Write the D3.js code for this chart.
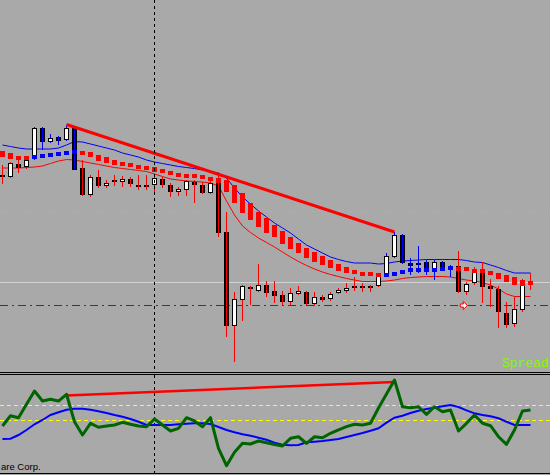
<!DOCTYPE html>
<html lang="en">
<head>
<meta charset="utf-8">
<script src="https://cdn.jsdelivr.net/npm/d3@7/dist/d3.min.js"></script>
<style>
  html, body { margin: 0; padding: 0; background: #a9a9a9; }
  svg { display: block; }
</style>
</head>
<body>
<svg id="chart" width="550" height="475"></svg>
<script>
// bars, oldest first
var open = [1.3175,1.3173,1.3186,1.3183,1.3192,1.3222,1.3208,1.3213,1.3210,1.3222,1.3182,1.3155,1.3173,1.3164,1.3170,1.3168,1.3171,1.3165,1.3165,1.3165,1.3171,1.3165,1.3158,1.3160,1.3168,1.3165,1.3157,1.3167,1.3118,1.3024,1.3050,1.3063,1.3059,1.3065,1.3059,1.3055,1.3048,1.3056,1.3058,1.3046,1.3053,1.3051,1.3057,1.3059,1.3064,1.3064,1.3064,1.3064,1.3075,1.3093,1.3115,1.3087,1.3087,1.3088,1.3078,1.3088,1.3084,1.3084,1.3058,1.3067,1.3077,1.3064,1.3061,1.3037,1.3026,1.3040,1.3068];
var high = [1.3185,1.3188,1.3193,1.3193,1.3223,1.3223,1.3216,1.3214,1.3225,1.3223,1.3190,1.3175,1.3180,1.3170,1.3175,1.3174,1.3173,1.3175,1.3175,1.3174,1.3173,1.3167,1.3163,1.3170,1.3170,1.3168,1.3173,1.3177,1.3138,1.3058,1.3065,1.3064,1.3086,1.3069,1.3069,1.3059,1.3062,1.3064,1.3059,1.3058,1.3055,1.3058,1.3062,1.3067,1.3073,1.3067,1.3065,1.3077,1.3097,1.3118,1.3116,1.3092,1.3104,1.3090,1.3090,1.3089,1.3085,1.3099,1.3068,1.3083,1.3088,1.3071,1.3064,1.3048,1.3053,1.3071,1.3077];
var low = [1.3166,1.3172,1.3177,1.3181,1.3190,1.3200,1.3207,1.3205,1.3209,1.3180,1.3154,1.3153,1.3162,1.3162,1.3164,1.3163,1.3163,1.3160,1.3160,1.3158,1.3162,1.3153,1.3154,1.3154,1.3147,1.3156,1.3156,1.3113,1.3013,1.2988,1.3029,1.3045,1.3058,1.3053,1.3047,1.3045,1.3044,1.3055,1.3045,1.3044,1.3048,1.3049,1.3056,1.3057,1.3059,1.3058,1.3058,1.3063,1.3074,1.3092,1.3086,1.3075,1.3077,1.3075,1.3070,1.3079,1.3073,1.3057,1.3055,1.3065,1.3047,1.3043,1.3022,1.3022,1.3023,1.3038,1.3060];
var close = [1.3173,1.3187,1.3182,1.3190,1.3222,1.3208,1.3212,1.3209,1.3222,1.3180,1.3155,1.3173,1.3164,1.3167,1.3169,1.3171,1.3166,1.3163,1.3163,1.3172,1.3165,1.3158,1.3161,1.3169,1.3165,1.3157,1.3167,1.3117,1.3024,1.3051,1.3064,1.3061,1.3065,1.3057,1.3054,1.3048,1.3057,1.3059,1.3046,1.3053,1.3050,1.3056,1.3060,1.3062,1.3063,1.3062,1.3062,1.3075,1.3094,1.3115,1.3087,1.3084,1.3085,1.3078,1.3088,1.3082,1.3082,1.3058,1.3066,1.3079,1.3063,1.3061,1.3038,1.3025,1.3041,1.3068,1.3065];

// trend: 1 = up (blue), -1 = down (red)
var trend = [-1,-1,-1,-1,1,1,1,1,1,1,-1,-1,-1,-1,-1,-1,-1,-1,-1,-1,-1,-1,-1,-1,-1,-1,-1,-1,-1,-1,-1,-1,-1,-1,-1,-1,-1,-1,-1,-1,-1,-1,-1,-1,-1,-1,-1,-1,1,1,1,1,1,1,1,1,1,-1,-1,-1,-1,-1,-1,-1,-1,-1,-1];

// dotted trend MA, histogram between two buffers
var maTop = [1.3197,1.3195,1.3192,1.3192,1.3193,1.31935,1.31945,1.3196,1.31975,1.31985,1.31975,1.3196,1.3193,1.3191,1.3188,1.3186,1.3185,1.31835,1.3182,1.3181,1.3179,1.3177,1.3175,1.31745,1.31735,1.31725,1.3171,1.3170,1.3168,1.3163,1.3155,1.3145,1.3136,1.3130,1.3123,1.3117,1.3111,1.3105,1.3100,1.3096,1.3092,1.3088,1.3084,1.3081,1.3078,1.3076,1.3076,1.3075,1.3075,1.3076,1.30785,1.3080,1.30805,1.30805,1.30805,1.3081,1.3082,1.30815,1.3081,1.3079,1.3079,1.3077,1.3075,1.3073,1.3071,1.3068,1.3067];
var maBot = [1.3195,1.3193,1.3192,1.3192,1.3193,1.31935,1.31945,1.3196,1.31975,1.31985,1.31975,1.3195,1.3191,1.3189,1.3187,1.3186,1.3185,1.31835,1.3182,1.3180,1.3179,1.3177,1.3175,1.31745,1.31735,1.31725,1.3171,1.3169,1.3160,1.3149,1.3139,1.3132,1.3125,1.3119,1.3115,1.3108,1.3103,1.3099,1.3094,1.3090,1.3087,1.3084,1.3081,1.3079,1.3078,1.3076,1.3076,1.3075,1.3075,1.3076,1.30785,1.3080,1.30805,1.30805,1.30805,1.3081,1.3082,1.30815,1.3081,1.3079,1.3079,1.3077,1.3073,1.3070,1.3067,1.3066,1.3067];

// envelope
var bandUp = [1.3205,1.32035,1.3202,1.3201,1.3201,1.3201,1.3201,1.3202,1.3205,1.32085,1.3208,1.3206,1.3204,1.3202,1.3200,1.3197,1.3195,1.3193,1.3190,1.3188,1.31865,1.3185,1.31835,1.31825,1.31815,1.3180,1.31785,1.3177,1.3172,1.3162,1.3153,1.3146,1.3139,1.3133,1.3127,1.3122,1.3117,1.3111,1.3105,1.3101,1.3097,1.3093,1.30905,1.30885,1.3087,1.3087,1.3087,1.3086,1.30865,1.3088,1.3089,1.30895,1.3090,1.30905,1.30905,1.30905,1.30905,1.30905,1.30895,1.3088,1.30875,1.3085,1.30825,1.30795,1.3077,1.3077,1.3077];
var bandDn = [1.3182,1.3182,1.3182,1.31825,1.3183,1.3184,1.31865,1.3189,1.31905,1.3190,1.31885,1.3187,1.31855,1.3184,1.31825,1.31815,1.31805,1.31795,1.31785,1.3176,1.31735,1.3171,1.3170,1.3169,1.31685,1.3168,1.3167,1.3164,1.3149,1.3135,1.3124,1.31175,1.3112,1.31075,1.3103,1.3098,1.3093,1.30885,1.30845,1.3081,1.3078,1.30755,1.30735,1.30715,1.3070,1.30685,1.30685,1.30685,1.3069,1.3070,1.30715,1.30725,1.3073,1.30735,1.30735,1.30735,1.3073,1.30715,1.3070,1.3069,1.30675,1.3065,1.3061,1.3056,1.30535,1.30535,1.30535];

// oscillator window
var osc = [-18,-4.3,-6.9,10.9,28.7,15.3,17.6,15.3,24.3,-12.3,-30,-14.4,-19.7,-18,-16.7,-13.1,-15.7,-18,-18.9,-8.7,-16.7,-24.7,-21.1,-6.9,-11.3,-18.9,-6.9,-47.7,-70.9,-53.1,-41.1,-42,-38,-40.3,-42.7,-44.7,-34.4,-32.3,-41.1,-32.3,-33.6,-27.7,-23.3,-18.9,-15.7,-16.7,-14.4,6,24.7,43.3,7.7,6.4,7.7,-2.4,7.7,1.1,3.3,-24.7,-14.4,-3.3,-14.4,-17.6,-32.3,-42.4,-23.3,2,3.3];
var oscSignal = [-35.3,-34.9,-30,-23.3,-15.7,-10,-3.3,0.3,3.7,5.1,5.1,3.7,1.6,-0.7,-3.3,-5.6,-8.7,-12.3,-16.7,-16.7,-16.7,-16.7,-15.7,-14.9,-14.4,-14.4,-15.3,-19.3,-23.3,-26.4,-29.1,-30.9,-33.6,-36.3,-40.3,-42.9,-43.7,-43.3,-39.7,-38.9,-38,-36.7,-35.3,-32.7,-30,-27.3,-24.3,-21.1,-13.6,-6.9,-4.3,-0.7,2.4,4.7,6.4,8.3,10,7.3,2.9,-1.1,-3.3,-5.1,-7.7,-12.3,-16.7,-16.7,-16.7];
var oscLevels = [10, -10];

// objects on the chart
var priceTrend = [[8, 1.32255], [49, 1.3118]];
var oscTrend = [[8, 22.7], [49, 40.7]];
var grayLevel = 1.3068;
var orangeLevel = 1.3139;
var greenLevel = 1.3045;
var markBar = 57.6, markPrice = 1.30445;
var vlineBar = 19;

var svg = d3.select('#chart');
var W = 550, H = 475;
var mainBottom = 372, subTop = 375, subBottom = 473;

var x = d3.scaleLinear().domain([0, 66]).range([2.5, 530.5]);
var y = d3.scaleLinear().domain([1.2978, 1.3350]).range([372, 0]);
var ys = d3.scaleLinear().domain([-80, 50]).range([472.5, 375]);

var BLUE = '#0000ff', RED = '#ff0000';
function tcol(i) { return trend[i] > 0 ? BLUE : RED; }

svg.append('rect').attr('width', W).attr('height', H).attr('fill', '#a9a9a9');

var defs = svg.append('defs');
defs.append('clipPath').attr('id', 'clipMain')
  .append('rect').attr('x', 0).attr('y', 0).attr('width', W).attr('height', mainBottom);
defs.append('clipPath').attr('id', 'clipSub')
  .append('rect').attr('x', 0).attr('y', subTop).attr('width', W).attr('height', subBottom - subTop);

var main = svg.append('g').attr('clip-path', 'url(#clipMain)');
var sub = svg.append('g').attr('clip-path', 'url(#clipSub)');

// horizontal levels
function hline(g, yy, color, dash) {
  var l = g.append('line')
    .attr('x1', 0).attr('x2', W)
    .attr('y1', Math.round(yy) + 0.5).attr('y2', Math.round(yy) + 0.5)
    .attr('stroke', color).attr('stroke-width', 1)
    .attr('shape-rendering', 'crispEdges');
  if (dash) l.attr('stroke-dasharray', dash);
}
hline(main, y(grayLevel), '#d3d3d3');
hline(main, y(orangeLevel), '#ffa500', '8,4');
hline(main, y(greenLevel), '#006400', '8,4,2,4');

// vertical period separator
var vx = Math.floor(x(vlineBar)) + 0.5;
svg.append('line').attr('x1', vx).attr('x2', vx).attr('y1', 0).attr('y2', mainBottom)
  .attr('stroke', '#000').attr('stroke-dasharray', '3,3').attr('shape-rendering', 'crispEdges');

// envelope lines
var idx = d3.range(open.length);
var bandLine = function(arr) {
  return d3.line().x(function(i) { return x(i); }).y(function(i) { return y(arr[i]); })(idx);
};
main.append('path').attr('d', bandLine(bandUp)).attr('fill', 'none').attr('stroke', BLUE).attr('stroke-width', 1);
main.append('path').attr('d', bandLine(bandDn)).attr('fill', 'none').attr('stroke', RED).attr('stroke-width', 1);

// candles
var bars = main.append('g').attr('shape-rendering', 'crispEdges');
idx.forEach(function(i) {
  var c = x(i);
  var up = close[i] >= open[i];
  var top = Math.round(y(Math.max(open[i], close[i])));
  var bot = Math.round(y(Math.min(open[i], close[i])));
  var wick = function() {
    bars.append('line').attr('x1', c).attr('x2', c)
      .attr('y1', Math.round(y(high[i]))).attr('y2', Math.round(y(low[i])))
      .attr('stroke', tcol(i)).attr('stroke-width', 1);
  };
  if (up) {
    wick();
    bars.append('rect').attr('x', c - 2).attr('y', top + 0.5)
      .attr('width', 4).attr('height', Math.max(bot - top - 1, 1))
      .attr('fill', '#fff').attr('stroke', '#000').attr('stroke-width', 1);
  } else {
    bars.append('rect').attr('x', c - 2.5).attr('y', top)
      .attr('width', 5).attr('height', Math.max(bot - top, 2))
      .attr('fill', '#000');
    wick();
  }
});

// trend dots
main.append('g').attr('shape-rendering', 'crispEdges')
  .selectAll('rect').data(idx).enter().append('rect')
  .attr('x', function(i) { return x(i) - 2.5; })
  .attr('y', function(i) { return Math.round(y(maTop[i])) - 2; })
  .attr('width', 5)
  .attr('height', function(i) { return Math.round(y(maBot[i])) - Math.round(y(maTop[i])) + 4; })
  .attr('fill', function(i) { return tcol(i); });

// trend line
main.append('line')
  .attr('x1', x(priceTrend[0][0])).attr('y1', y(priceTrend[0][1]))
  .attr('x2', x(priceTrend[1][0])).attr('y2', y(priceTrend[1][1]))
  .attr('stroke', RED).attr('stroke-width', 3);

// price label arrow
var mx = x(markBar), my = y(markPrice);
main.append('path')
  .attr('d', 'M' + (mx - 3) + ',' + (my - 1.5) + 'h3v-2.5l4,4l-4,4v-2.5h-3z')
  .attr('fill', '#fff').attr('stroke', RED).attr('stroke-width', 1);

svg.append('text').attr('x', 502).attr('y', 367)
  .attr('font-family', 'Liberation Mono, monospace').attr('font-size', 13)
  .attr('fill', '#7cfc00').text('Spread');

// window separators
[372.5, 374.5, 473.5].forEach(function(yy) {
  svg.append('line').attr('x1', 0).attr('x2', W).attr('y1', yy).attr('y2', yy)
    .attr('stroke', '#000').attr('stroke-width', 1).attr('shape-rendering', 'crispEdges');
});

// oscillator
oscLevels.forEach(function(v) {
  hline(sub, ys(v) - 0.5, '#ffff00', '4,3');
});
sub.append('line').attr('x1', vx).attr('x2', vx).attr('y1', subTop).attr('y2', subBottom)
  .attr('stroke', '#000').attr('stroke-dasharray', '3,3').attr('shape-rendering', 'crispEdges');

var oscLine = function(arr) {
  return d3.line().x(function(i) { return x(i); }).y(function(i) { return ys(arr[i]); })(idx);
};
sub.append('path').attr('d', oscLine(oscSignal)).attr('fill', 'none').attr('stroke', BLUE).attr('stroke-width', 2);
sub.append('line')
  .attr('x1', x(oscTrend[0][0])).attr('y1', ys(oscTrend[0][1]))
  .attr('x2', x(oscTrend[1][0])).attr('y2', ys(oscTrend[1][1]))
  .attr('stroke', RED).attr('stroke-width', 2.5);
sub.append('path').attr('d', oscLine(osc)).attr('fill', 'none').attr('stroke', '#006400').attr('stroke-width', 3)
  .attr('stroke-linejoin', 'round');

svg.append('text').attr('x', 1).attr('y', 470)
  .attr('font-family', 'Liberation Sans, Arial, sans-serif').attr('font-size', 9.5)
  .attr('fill', '#000').text('are Corp.');
</script>
</body>
</html>
